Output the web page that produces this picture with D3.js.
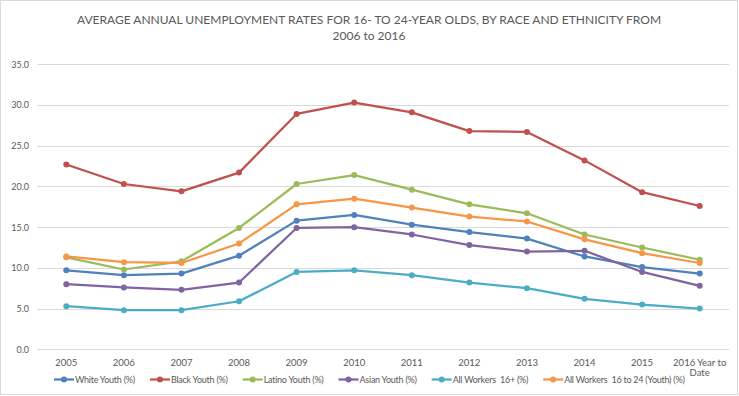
<!DOCTYPE html>
<html>
<head>
<meta charset="utf-8">
<script src="https://cdn.jsdelivr.net/npm/d3@7"></script>
<style>
  html, body { margin: 0; padding: 0; background: #fff; }
  svg { display: block; font-family: Lato, "Open Sans", sans-serif; }
</style>
</head>
<body>
<div id="chart"></div>
<script>
// categories
const years = ["2005", "2006", "2007", "2008", "2009", "2010", "2011", "2012", "2013", "2014", "2015", "2016 Year to Date"];

// series values (%)
const whiteYouth  = [9.7, 9.1, 9.3, 11.5, 15.8, 16.5, 15.3, 14.4, 13.6, 11.4, 10.1, 9.3];
const blackYouth  = [22.7, 20.3, 19.4, 21.7, 28.9, 30.3, 29.1, 26.8, 26.7, 23.2, 19.3, 17.6];
const latinoYouth = [11.3, 9.8, 10.8, 14.9, 20.3, 21.4, 19.6, 17.8, 16.7, 14.1, 12.5, 11.0];
const asianYouth  = [8.0, 7.6, 7.3, 8.2, 14.9, 15.0, 14.1, 12.8, 12.0, 12.1, 9.5, 7.8];
const allWorkers  = [5.3, 4.8, 4.8, 5.9, 9.5, 9.7, 9.1, 8.2, 7.5, 6.2, 5.5, 5.0];
const allYouth    = [11.4, 10.7, 10.6, 13.0, 17.8, 18.5, 17.4, 16.3, 15.7, 13.5, 11.8, 10.6];

const seriesNames = ["White Youth (%)", "Black Youth (%)", "Latino Youth (%)", "Asian Youth (%)", "All Workers  16+ (%)", "All Workers  16 to 24 (Youth) (%)"];
const yTicks = [0, 5, 10, 15, 20, 25, 30, 35];

const series = [whiteYouth, blackYouth, latinoYouth, asianYouth, allWorkers, allYouth]
  .map((values, i) => ({ name: seriesNames[i], values }));

const W = 739, H = 396;
const COLORS = ["#4F81BD", "#C0504D", "#9BBB59", "#8064A2", "#4BACC6", "#F79646"];
const TEXT = "#595959";

const svg = d3.select("#chart").append("svg")
  .attr("width", W)
  .attr("height", H);

// chart frame
svg.append("rect")
  .attr("x", 0.5).attr("y", 0.5)
  .attr("width", W - 2).attr("height", H - 2)
  .attr("fill", "#fff")
  .attr("stroke", "#d9d9d9");

// title
const title = svg.append("text")
  .attr("text-anchor", "middle")
  .attr("fill", TEXT)
  .style("font-size", "12px");
title.append("tspan").attr("x", 369).attr("y", 23.5)
  .text("AVERAGE ANNUAL UNEMPLOYMENT RATES FOR 16- TO 24-YEAR OLDS, BY RACE AND ETHNICITY FROM");
title.append("tspan").attr("x", 369).attr("y", 40)
  .text("2006 to 2016");

const x = d3.scaleBand().domain(years).range([37.5, 728.5]).padding(0);
const y = d3.scaleLinear().domain([0, 35]).range([349.3, 64.3]);
const cx = (d) => x(d) + x.bandwidth() / 2;

// gridlines + y labels
const yAxis = svg.append("g")
  .call(d3.axisLeft(y).tickValues(yTicks).tickFormat(d3.format(".1f")).tickSize(0).tickPadding(0));
yAxis.select(".domain").remove();
yAxis.selectAll("text")
  .attr("x", 29)
  .attr("fill", TEXT)
  .style("font-size", "9px")
  .style("font-family", "Lato, sans-serif");

svg.append("g").selectAll("line")
  .data(yTicks)
  .join("line")
  .attr("x1", 37.5).attr("x2", 729)
  .attr("y1", (d) => Math.round(y(d)) + 0.5)
  .attr("y2", (d) => Math.round(y(d)) + 0.5)
  .attr("stroke", "#d9d9d9")
  .attr("stroke-width", 1);

// x labels (last one wraps like Excel)
const xl = svg.append("g").selectAll("text")
  .data(years)
  .join("text")
  .attr("text-anchor", "middle")
  .attr("fill", TEXT)
  .style("font-size", "9.5px");
xl.each(function (d) {
  const t = d3.select(this);
  if (d.length > 4) {
    t.append("tspan").attr("x", cx(d)).attr("y", 365.5).text("2016 Year to");
    t.append("tspan").attr("x", cx(d)).attr("y", 376).text("Date");
  } else {
    t.append("tspan").attr("x", cx(d)).attr("y", 365.5).text(d);
  }
});

// lines + markers
const line = d3.line()
  .x((d, i) => cx(years[i]))
  .y((d) => y(d));

const sg = svg.append("g").selectAll("g")
  .data(series)
  .join("g");

sg.append("path")
  .attr("d", (d) => line(d.values))
  .attr("fill", "none")
  .attr("stroke", (d, i) => COLORS[i])
  .attr("stroke-width", 2.25)
  .attr("stroke-linejoin", "round")
  .attr("stroke-linecap", "round");

sg.each(function (s, i) {
  d3.select(this).selectAll("circle")
    .data(s.values)
    .join("circle")
    .attr("cx", (d, j) => cx(years[j]))
    .attr("cy", (d) => y(d))
    .attr("r", 3)
    .attr("fill", COLORS[i]);
});

// legend
const legend = svg.append("g");
const items = legend.selectAll("g")
  .data(series)
  .join("g");
items.append("line")
  .attr("x1", 0).attr("x2", 20)
  .attr("y1", 0).attr("y2", 0)
  .attr("stroke", (d, i) => COLORS[i])
  .attr("stroke-width", 2.25);
items.append("circle")
  .attr("cx", 10).attr("cy", 0).attr("r", 3)
  .attr("fill", (d, i) => COLORS[i]);
items.append("text")
  .attr("x", 21).attr("y", 3.2)
  .attr("fill", TEXT)
  .style("font-size", "9px")
  .style("letter-spacing", "-0.25px")
  .style("white-space", "pre")
  .text((d) => d.name);

let offset = 0;
const widths = [];
items.each(function () {
  const w = 21 + d3.select(this).select("text").node().getComputedTextLength();
  widths.push(w);
});
const GAP = 15;
const start = 54;
items.attr("transform", (d, i) => {
  const tx = start + offset;
  offset += widths[i] + GAP;
  return `translate(${tx},379.5)`;
});
</script>
</body>
</html>
